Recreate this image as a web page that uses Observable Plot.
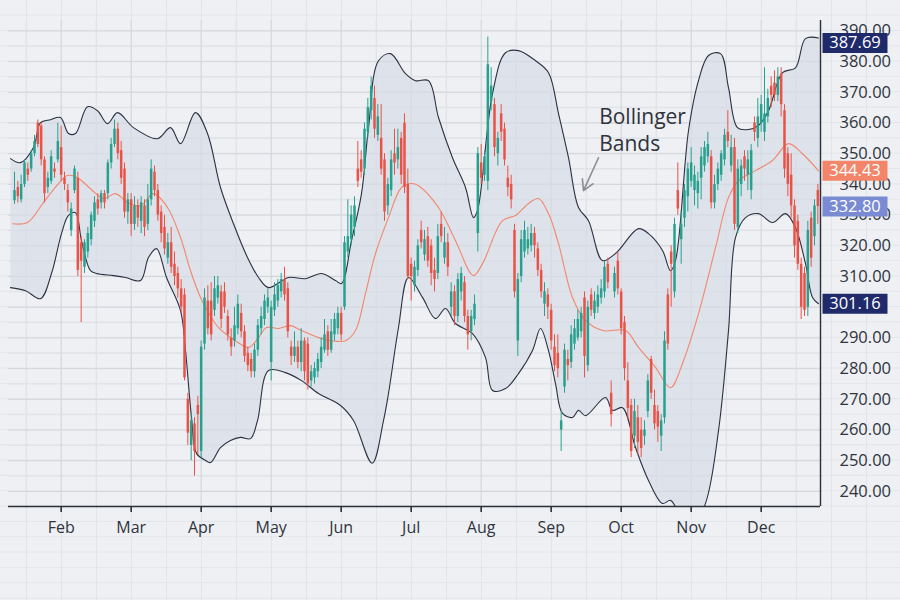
<!DOCTYPE html>
<html>
<head>
<meta charset="utf-8">
<script src="https://cdn.jsdelivr.net/npm/d3@7"></script>
<script src="https://cdn.jsdelivr.net/npm/@observablehq/plot@0.6"></script>
<style>
  html, body { margin: 0; padding: 0; }
  body {
    width: 900px; height: 600px; overflow: hidden;
    background-color: #eef0f3;
    background-image:
      linear-gradient(#e2e5ea 1px, transparent 1px),
      linear-gradient(90deg, #e2e5ea 1px, transparent 1px);
    background-size: 35px 15.35px;
    background-position: 26px 14.6px;
    font-family: "Open Sans", "Lato", sans-serif;
  }
  #chart svg { display: block; }
</style>
</head>
<body>
<div id="chart"></div>
<script>
// ---- Candles (trading-day index = array position) ----
const open = [
  334.7,339,335,340,345,345,350,360,359,348, 339,341,345,348,352,342,338,325,338,342,
  321,313,318,322,328,335,334,337,337,347, 353,358,351,345,331,335,327,333,328,333,
  327,335,344,338,331,326,316,321,314,311, 306,304,270,255,262,268,253,288,302,302,
  299,303,305,305,297,290,289,293,298,292, 285,283,279,286,293,296,300,282,299,302,
  305,309,306,287,284,287,282,289,288,276, 277,279,282,286,292,286,291,293,298,300,
  318,322,326,345,348,345,357,364,368,356, 355,348,333,338,350,348,355,360,340,314,
  307,312,325,317,323,320,312,311,327,316, 321,300,305,297,305,308,297,292,296,324,
  347,343,341,367,366,350,363,358,342,340, 325,289,310,318,319,320,324,319,312,301,
  304,299,287,285,260,274,283,282,288,290, 292,303,281,304,298,300,303,305,314,272,
  305,315,305,295,276,268,258,264,260,258, 266,283,268,266,258,264,304,318,305,338,
  322,329,336,341,338,337,342,346,349,349, 334,340,343,348,357,346,352,326,340,349,
  343,338,360,355,360,357,362,372,373,369, 376,364,350,343,333,328,314,311,300,329,
  323,338
];
const close = [
  338,336,340,347,343,350,354,353,348,337, 342,349,344,354,343,340,334,332,345,312,
  315,321,324,330,334,332,337,334,347,353, 358,350,342,331,335,327,333,329,334,326,
  335,345,338,330,324,319,321,313,310,306, 300,277,259,263,253,265,287,303,293,291,
  306,307,296,300,291,287,294,301,292,284, 281,279,286,294,297,302,303,300,304,307,
  309,304,292,284,287,282,289,279,275,279, 280,283,287,291,286,292,296,298,291,321,
  323,330,333,341,344,358,365,372,358,362, 345,331,340,348,347,352,343,339,310,310,
  313,320,321,322,315,311,309,323,323,321, 313,305,297,309,311,297,291,297,301,350,
  342,349,379,372,352,355,357,348,339,335, 305,309,322,325,322,324,320,312,305,305,
  300,289,281,280,263,286,281,291,293,296, 298,284,300,299,302,304,306,313,308,265,
  311,306,293,280,267,253,266,256,254,260, 276,272,262,261,263,289,288,314,327,332,
  327,338,345,347,343,341,349,352,353,334, 340,345,350,356,354,352,327,345,346,345,
  348,351,357,362,366,363,368,369,369,375, 366,345,340,333,320,314,300,299,325,316,
  333,332.8
];
const high = [
  344,341,343,348,347,351,356,361,360,349, 344,351,347,360,359,344,340,334,346,344,
  323,322,326,331,336,337,338,338,348,355, 361,360,354,347,337,337,336,335,336,335,
  340,348,346,340,333,330,324,326,318,313, 309,306,272,266,264,271,289,306,307,308,
  310,310,307,308,299,293,300,304,301,294, 287,285,288,296,300,304,306,302,308,309,
  311,313,308,289,292,289,293,290,290,281, 282,285,290,296,294,296,298,300,300,323,
  335,333,336,354,351,360,368,375,372,366, 366,350,342,351,358,358,357,363,345,316,
  315,322,328,325,326,322,316,327,331,326, 324,308,307,311,313,310,299,299,304,352,
  353,351,388,378,368,357,366,360,346,343, 327,311,325,328,326,327,326,321,314,308,
  306,301,291,291,266,288,286,294,296,299, 300,305,302,306,305,307,309,315,316,276,
  313,318,306,297,282,270,270,268,264,263, 278,284,273,268,265,292,306,320,329,347,
  331,340,347,352,346,344,352,354,357,351, 343,347,351,358,364,356,355,348,348,351,
  351,353,362,368,369,378,371,375,377,378, 378,366,352,350,335,330,316,313,328,331,
  335,340
];
const low = [
  333.5,334,334,339,341,344,349,352,346,334, 337,340,342,347,341,338,331,323,337,310,
  295,311,316,320,326,330,332,332,335,345, 352,348,340,329,327,323,325,326,324,323,
  325,333,336,328,321,317,314,311,307,303, 298,276,255,250,245,252,251,286,291,289,
  297,301,293,298,289,284,287,291,290,282, 279,277,277,284,291,294,298,276,297,300,
  303,302,290,281,282,280,279,276,273,274, 275,277,280,285,284,285,289,291,289,299,
  316,320,323,339,342,343,355,361,355,354, 343,328,330,336,343,345,340,337,309,302,
  305,310,319,315,313,307,305,309,321,314, 310,297,294,295,302,295,286,289,294,318,
  340,341,338,364,349,346,354,346,336,332, 303,284,308,316,317,318,316,310,303,297,
  296,286,279,277,253,272,276,280,286,289, 290,277,279,297,296,298,301,303,306,261,
  303,304,291,276,263,251,254,252,251,255, 264,270,260,256,253,262,286,300,303,330,
  314,326,331,339,333,332,335,344,347,332, 332,338,341,346,352,344,325,324,336,341,
  338,335,354,352,357,354,360,365,367,367, 362,342,336,329,316,312,296,297,297,313,
  320,327
];

// ---- Bollinger bands at sample days ----
const upperDay = [-1.2,1.8,5.7,7.8,10.8,13.8,16.2,18.3,21.9,24.9,27.9,30.9,35.7,42.9,46.8,49.8,54.3,57.9,61.8,65.7,
  69.9,73.2,76.2,82.2,87.3,92.1,96.3,98.1,101.1,104.1,106.2,109.2,112.8,117.3,120.3,124.2,127.2,131.4,135.3,137.7,
  138.9,143.4,147.3,151.2,156.3,160.2,163.2,166.2,169.2,172.2,176.4,180.3,187.2,190.2,194.4,196.8,198.3,202.2,205.2,208.2,
  211.8,214.2,216.9,220.2,223.2,226.2,230.4,234.3,237.3,241.2];
const upperValue = [348.4,347.1,352.0,360.1,361.1,361.8,356.6,356.6,365.3,364.0,359.8,363.4,358.5,354.9,358.5,353.3,363.4,356.6,339.0,327.2,
  316.2,309.7,306.4,309.7,309.3,311.0,308.7,307.7,321.7,337.0,358.5,380.3,382.6,376.1,373.8,373.8,361.8,348.7,339.0,329.2,
  331.5,369.6,382.9,383.6,380.3,376.4,363.1,348.7,332.5,328.2,315.2,317.5,325.6,324.0,318.5,311.9,315.2,357.5,373.8,382.0,
  382.6,371.5,358.5,357.9,359.2,364.0,376.4,378.0,387.5,387.69];

const lowerDay = [-1.2,3.3,7.8,11.1,14.1,16.2,18.3,20.1,22.8,24.6,29.7,33.3,37.8,40.2,42.6,45.6,49.8,51.3,53.1,54.6,
  57.3,58.8,61.8,64.8,67.8,70.8,72.9,76.2,81.3,86.1,91.2,97.8,101.7,107.3,110.7,112.2,115.2,118.2,122.4,126.3,
  129.3,132.3,137.4,141.3,143.4,147.3,151.2,155.4,157.8,160.2,162.3,164.4,167.4,169.2,171.3,177.3,179.4,182.4,186.3,190.2,
  194.4,196.8,198.9,202.8,207.3,211.2,214.2,216.3,219.3,223.2,227.4,231.3,234.3,237.3,239.4,241.2];
const lowerValue = [306.4,305.4,302.8,311.0,324.0,329.9,330.8,321.7,311.9,311.0,310.3,309.7,308.7,316.2,319.1,309.7,298.9,285.9,264.1,252.4,
  250.1,249.4,254.3,256.6,257.6,257.2,263.1,279.4,278.7,276.1,271.9,268.0,263.1,249.2,263.1,271.9,293.4,309.7,303.2,296.3,
  299.6,294.7,291.4,283.6,272.9,273.5,278.4,285.9,293.1,285.9,275.1,265.4,264.1,266.4,264.7,270.6,266.4,267.3,254.3,243.6,
  236.1,237.1,233.8,227.3,236.1,259.8,292.4,322.7,329.2,330.5,327.6,330.5,325.9,314.2,303.2,301.16];

const middleDay = [-0.6,3.9,8.7,13.2,15.9,18.9,22.8,26.7,30.3,33.9,37.8,41.7,45.9,49.8,52.8,55.8,59.1,61.2,66.3,70.2,
  73.2,75.6,79.2,82.8,86.1,91.2,95.1,99.3,102.3,105.3,108.3,112.2,116.1,119.1,121.2,127.2,132.3,137.7,140.4,146.4,
  150.3,154.2,157.2,160.2,163.2,167.4,171.3,176.4,183.3,187.2,192.3,196.8,200.4,205.2,210.3,214.2,217.2,222.3,227.4,232.2,
  236.4,241.2];
const middleValue = [327.2,327.6,334.1,340.3,342.9,342.2,338.6,335.4,337.0,334.1,333.1,337.0,332.5,322.7,311.9,303.2,296.6,293.4,289.1,286.9,
  290.1,293.4,293.1,294.0,292.4,290.1,289.1,289.1,292.4,304.5,317.5,329.2,339.0,340.3,339.6,332.5,321.7,310.3,314.2,328.2,
  329.9,333.8,335.4,330.5,320.7,303.2,295.7,292.4,292.4,286.9,280.4,273.8,281.7,297.9,319.4,335.7,341.2,344.5,347.8,353.3,
  350.0,344.43];

// ---- Axes ----
const monthTicks = [14, 35, 56, 77, 98, 119, 140, 161, 182, 203, 224];
const monthLabels = ["Feb","Mar","Apr","May","Jun","Jul","Aug","Sep","Oct","Nov","Dec"];
const monthMid = [3.5, 24.5, 45.5, 66.5, 87.5, 108.5, 129.5, 150.5, 171.5, 192.5, 213.5, 234.5];
const priceTicks = [240,250,260,270,280,290,300,310,320,330,340,350,360,370,380,390];
// the 300.00 label sits wholly under the 301.16 tag in the reference
const priceLabelTicks = [240,250,260,270,280,290,310,320,330,340,350,360,370,380,390];
const priceMinor = [245,255,265,275,285,295,305,315,325,335,345,355,365,375,385];
const xDomain = [-1.8, 241.8];
const yDomain = [235.1, 393.4];

// ---- Right-edge value labels ----
const tagValues = [387.69, 344.43, 332.80, 301.16];
const tagColors = ["#1f2a6b", "#f3866a", "#7a8bd3", "#1f2a6b"];

// ---- Annotation ----
const noteText = ["Bollinger\nBands"];
const noteX = [175.4];
const noteY = [366.0];
const arrowFrom = [175.2, 348.7];
const arrowTo = [170.7, 338.0];

const green = "#26a18e";
const red = "#ea5248";
const font = "'Open Sans', Lato, sans-serif";

const candles = close.map((c, i) => ({i, o: open[i], c, h: high[i], l: low[i], col: c >= open[i] ? green : red}));
const upper = upperDay.map((d, k) => ({d, v: upperValue[k]}));
const lower = lowerDay.map((d, k) => ({d, v: lowerValue[k]}));
const middle = middleDay.map((d, k) => ({d, v: middleValue[k]}));
const bandPolygon = [...upper, ...lower.slice().reverse()];
const tags = tagValues.map((v, k) => ({v, col: tagColors[k]}));
const tagBox = { draw(ctx) { ctx.rect(-32.5, -10, 65, 20); } };

const chart = Plot.plot({
  width: 900,
  height: 600,
  marginLeft: 8,
  marginRight: 80,
  marginTop: 20,
  marginBottom: 94,
  style: {background: "transparent", fontFamily: font, color: "#2f343d", overflow: "visible"},
  x: {domain: xDomain, axis: null},
  y: {domain: yDomain, axis: null},
  color: {type: "identity"},
  marks: [
    Plot.gridY(priceMinor, {stroke: "#dfe2e7", strokeOpacity: 1}),
    Plot.gridX(monthMid, {stroke: "#dfe2e7", strokeOpacity: 1}),
    Plot.gridY(priceTicks, {stroke: "#d2d6dc", strokeOpacity: 1}),
    Plot.gridX(monthTicks, {stroke: "#d2d6dc", strokeOpacity: 1}),
    Plot.line(bandPolygon, {x: "d", y: "v", fill: "#d7dbe5", fillOpacity: 0.7, stroke: "none", curve: "catmull-rom", clip: true}),
    Plot.line(middle, {x: "d", y: "v", stroke: "#f2876c", strokeWidth: 1.1, curve: "catmull-rom", clip: true}),
    Plot.line(upper, {x: "d", y: "v", stroke: "#2c3142", strokeWidth: 1.1, curve: "catmull-rom", clip: true}),
    Plot.line(lower, {x: "d", y: "v", stroke: "#2c3142", strokeWidth: 1.1, curve: "catmull-rom", clip: true}),
    Plot.ruleX(candles, {x: "i", y1: "l", y2: "h", stroke: "col", strokeWidth: 1}),
    Plot.ruleX(candles, {x: "i", y1: "o", y2: "c", stroke: "col", strokeWidth: 2.5}),
    Plot.ruleY([yDomain[0]], {stroke: "#2b2f38", strokeWidth: 1.6}),
    Plot.ruleX([xDomain[1]], {stroke: "#2b2f38", strokeWidth: 1.4}),
    Plot.axisX(monthTicks, {
      tickFormat: d => monthLabels[monthTicks.indexOf(d)],
      tickSize: 6, tickPadding: 9, fontSize: 16, fontWeight: 500, stroke: "#2b2f38", strokeWidth: 1.6, fill: "#2f343d"
    }),
    Plot.axisY(priceLabelTicks, {
      anchor: "right", tickSize: 0, tickPadding: 19, fontSize: 16.5, fontWeight: 500,
      tickFormat: d => d.toFixed(2), fill: "#2f343d", textAnchor: "start"
    }),
    Plot.dot(tags, {filter: (d, k) => k === 0, y: "v", frameAnchor: "right", dx: 34.5, dy: 5, symbol: tagBox, fill: "col", r: 5}),
    Plot.text(tags, {filter: (d, k) => k === 0, y: "v", text: d => d.v.toFixed(2), frameAnchor: "right", dx: 34.5, dy: 5, fill: "white", fontSize: 16.5, fontWeight: 500, textAnchor: "middle"}),
    Plot.dot(tags, {filter: (d, k) => k > 0, y: "v", frameAnchor: "right", dx: 34.5, symbol: tagBox, fill: "col", r: 5}),
    Plot.text(tags, {filter: (d, k) => k > 0, y: "v", text: d => d.v.toFixed(2), frameAnchor: "right", dx: 34.5, fill: "white", fontSize: 16.5, fontWeight: 500, textAnchor: "middle"}),
    Plot.text(noteText, {x: () => noteX[0], y: () => noteY[0], text: d => d, textAnchor: "start", lineAnchor: "top", lineHeight: 1.28, fontSize: 21, fontWeight: 500, fill: "#2f333b"}),
    Plot.arrow([0], {x1: () => arrowFrom[0], y1: () => arrowFrom[1], x2: () => arrowTo[0], y2: () => arrowTo[1], stroke: "#8b8e95", strokeWidth: 1.6, headLength: 11, bend: false})
  ]
});
document.getElementById("chart").appendChild(chart);
</script>
</body>
</html>
